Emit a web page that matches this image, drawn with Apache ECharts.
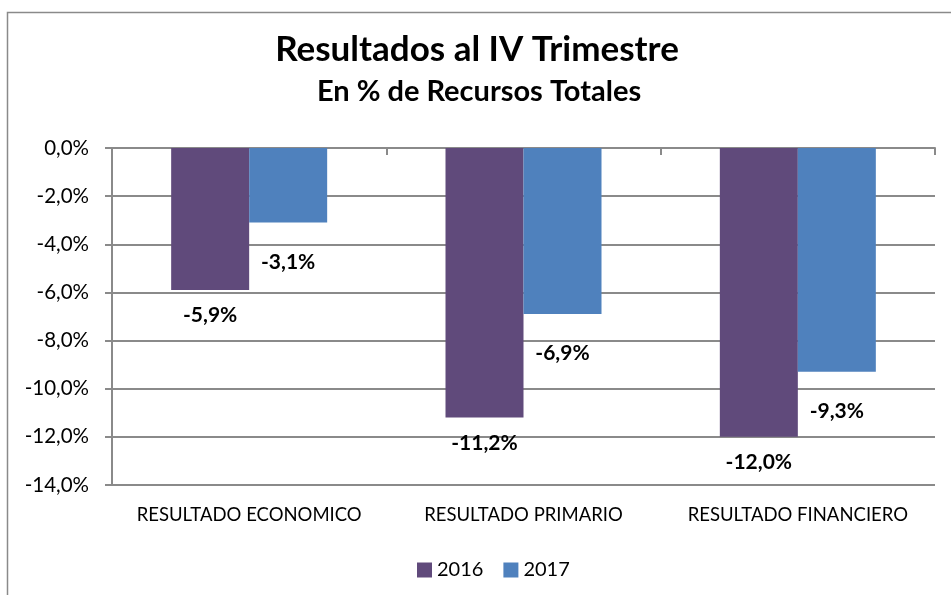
<!DOCTYPE html>
<html>
<head>
<meta charset="utf-8">
<script src="https://cdn.jsdelivr.net/npm/echarts@6/dist/echarts.min.js"></script>
<style>
  html, body { margin: 0; padding: 0; background: #fff; }
  #chart { width: 951px; height: 595px; }
</style>
</head>
<body>
<div id="chart"></div>
<script>
// datos del grafico
const categories = ['RESULTADO ECONOMICO', 'RESULTADO PRIMARIO', 'RESULTADO FINANCIERO'];
const seriesNames = ['2016', '2017'];
const values2016 = [-5.9, -11.2, -12.0];
const values2017 = [-3.1, -6.9, -9.3];
const yMin = -14;
const yMax = 0;
const yStep = 2;

const FONT = 'Lato, "Open Sans", sans-serif';
const fmtPct = (v) => v.toFixed(1).replace('.', ',') + '%';

const chart = echarts.init(document.getElementById('chart'));
chart.setOption({
  animation: false,
  backgroundColor: '#fff',
  title: [
    {
      text: 'Resultados al IV Trimestre',
      left: 472, top: 27, textAlign: 'center',
      textStyle: { fontFamily: FONT, fontSize: 35, fontWeight: 'bold', color: '#000' }
    },
    {
      text: 'En % de Recursos Totales',
      left: 474, top: 72, textAlign: 'center',
      textStyle: { fontFamily: FONT, fontSize: 29, fontWeight: 'bold', color: '#000' }
    }
  ],
  graphic: [{
    type: 'rect',
    shape: { x: 7.5, y: 12.5, width: 1000, height: 700 },
    style: { fill: 'none', stroke: '#8a8a8a', lineWidth: 1.5 },
    silent: true
  }],
  legend: {
    data: seriesNames,
    top: 555,
    left: 412,
    itemWidth: 15,
    itemHeight: 15,
    itemGap: 20,
    icon: 'rect',
    textStyle: { fontFamily: FONT, fontSize: 20, color: '#000' }
  },
  grid: { left: 112, right: 16, top: 148, bottom: 110 },
  xAxis: [
    {
      type: 'category',
      data: categories,
      position: 'bottom',
      axisLine: { show: false },
      axisTick: { show: false },
      axisLabel: { interval: 0, hideOverlap: false, margin: 21, fontFamily: FONT, fontSize: 18.5, color: '#000' }
    },
    {
      // eje en el cero (arriba) con marcas hacia adentro
      type: 'category',
      data: categories,
      position: 'top',
      axisLine: { show: true, onZero: false, lineStyle: { color: '#8a8a8a', width: 2 } },
      axisTick: { show: true, inside: true, length: 7, lineStyle: { color: '#8a8a8a', width: 2 } },
      axisLabel: { show: false }
    }
  ],
  yAxis: {
    type: 'value',
    min: yMin,
    max: yMax,
    interval: yStep,
    axisLine: { show: true, lineStyle: { color: '#8a8a8a', width: 2 } },
    axisTick: { show: true, length: 7, lineStyle: { color: '#8a8a8a', width: 2 } },
    axisLabel: { margin: 23, fontFamily: FONT, fontSize: 20.5, color: '#000', formatter: fmtPct },
    splitLine: { show: true, lineStyle: { color: '#8a8a8a', width: 2 } }
  },
  series: [
    {
      name: seriesNames[0],
      type: 'bar',
      data: values2016,
      barWidth: 78,
      barGap: '0%',
      itemStyle: { color: '#604A7B' },
      label: {
        show: true, position: 'bottom', distance: 15,
        fontFamily: FONT, fontSize: 21, fontWeight: 'bold', color: '#000',
        formatter: (p) => fmtPct(p.value)
      }
    },
    {
      name: seriesNames[1],
      type: 'bar',
      data: values2017,
      barWidth: 78,
      barGap: '0%',
      itemStyle: { color: '#4F81BD' },
      label: {
        show: true, position: 'bottom', distance: 29,
        fontFamily: FONT, fontSize: 21, fontWeight: 'bold', color: '#000',
        formatter: (p) => fmtPct(p.value)
      }
    }
  ]
});
</script>
</body>
</html>
